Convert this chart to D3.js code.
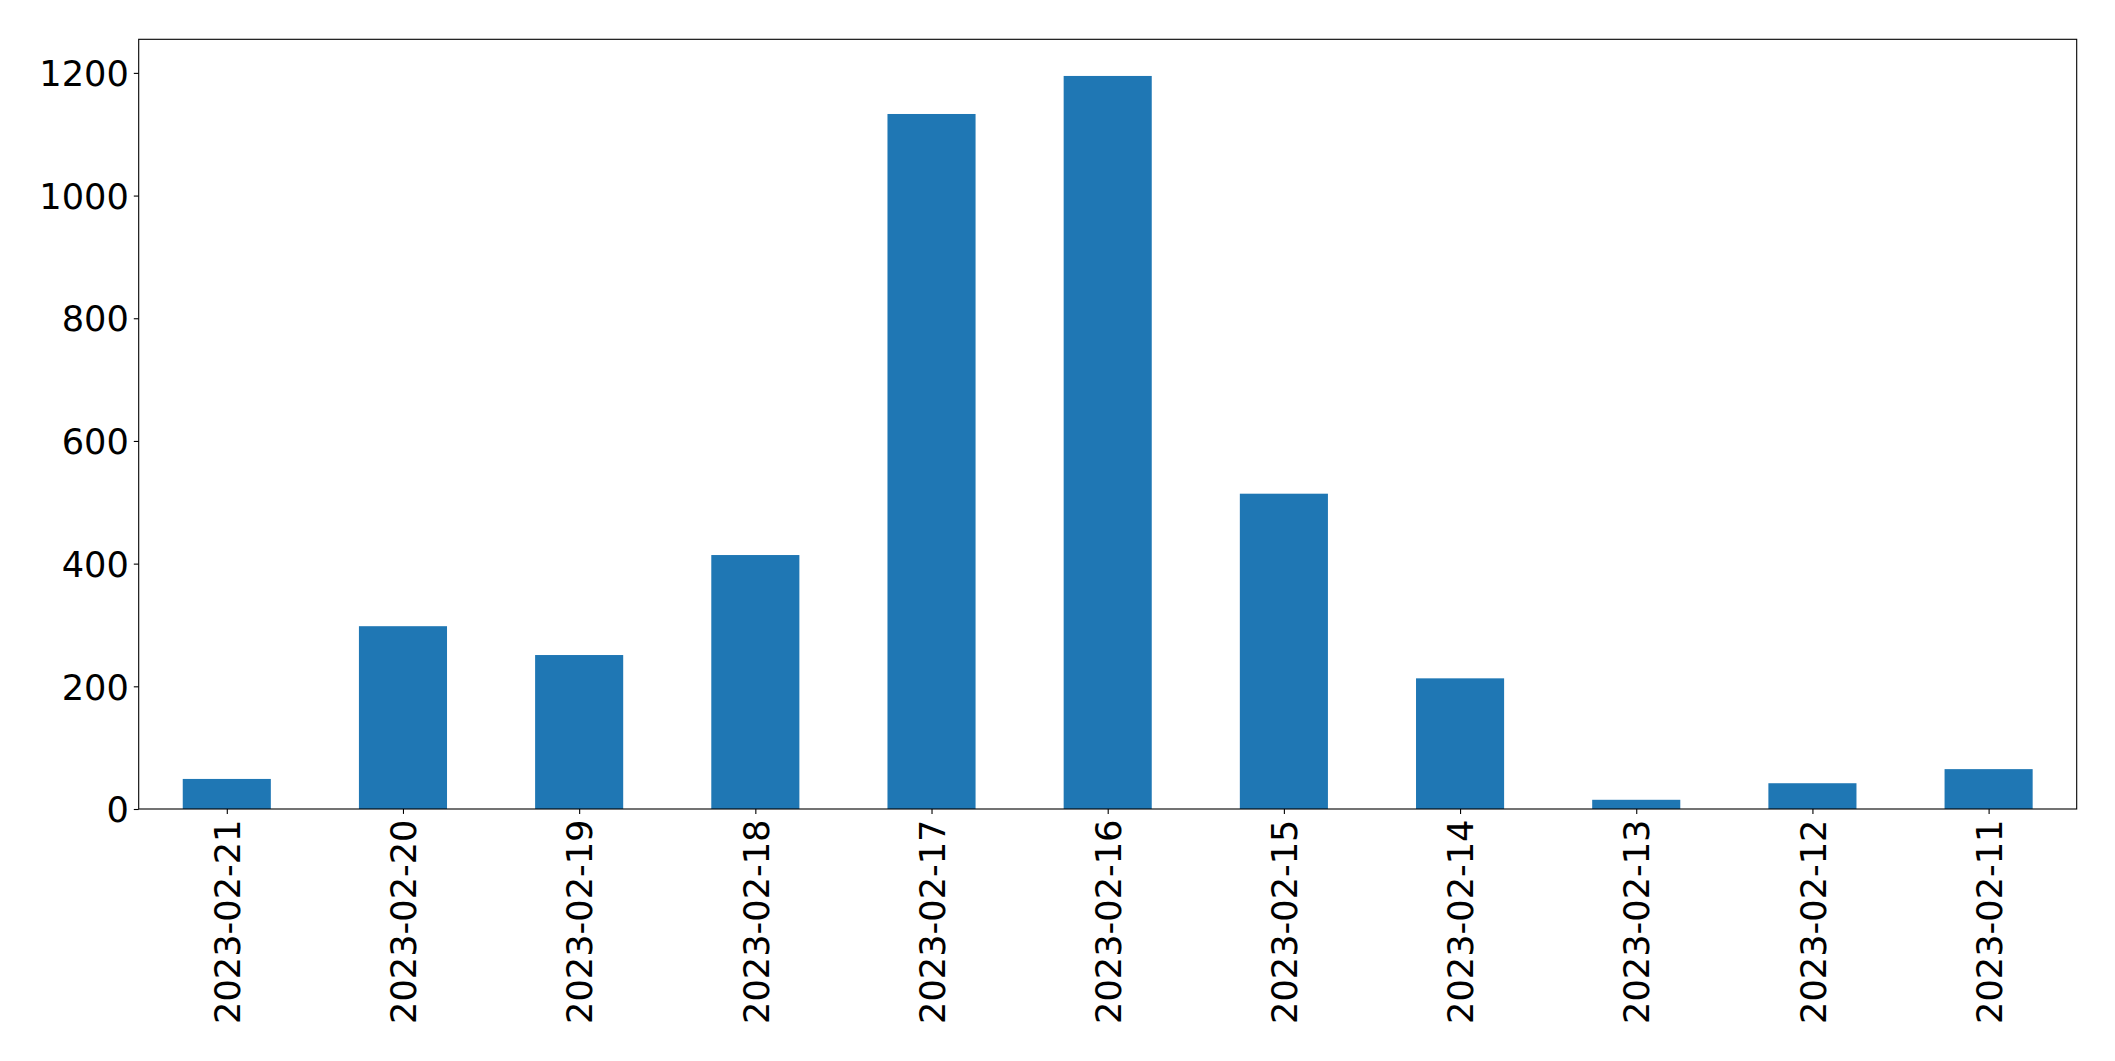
<!DOCTYPE html>
<html>
<head>
<meta charset="utf-8">
<script src="https://cdn.jsdelivr.net/npm/d3@7"></script>
<style>
  html, body { margin: 0; padding: 0; background: #fff; }
  svg { display: block; }
  text { font-family: "DejaVu Sans", sans-serif; }
</style>
</head>
<body>
<script>
const categories = ["2023-02-21","2023-02-20","2023-02-19","2023-02-18","2023-02-17","2023-02-16","2023-02-15","2023-02-14","2023-02-13","2023-02-12","2023-02-11"];
const values = [49, 298, 251, 414, 1133, 1195, 514, 213, 15, 42, 65];
const yTicks = [0, 200, 400, 600, 800, 1000, 1200];

const W = 2115, H = 1061;
const mLeft = 138.7, mRight = 2076.7, mTop = 39.3, mBottom = 809;
const fontSize = 35.2;

const svg = d3.select("body").append("svg").attr("width", W).attr("height", H);

const x = d3.scaleLinear().domain([-0.5, categories.length - 0.5]).range([mLeft, mRight]);
const yMax = d3.max(values) * 1.05;
const y = d3.scaleLinear().domain([0, yMax]).range([mBottom, mTop]);

// bars
svg.append("g").selectAll("rect").data(values).join("rect")
  .attr("x", (d, i) => x(i - 0.25))
  .attr("width", (d, i) => x(i + 0.25) - x(i - 0.25))
  .attr("y", d => y(d))
  .attr("height", d => y(0) - y(d))
  .attr("fill", "#1f77b4");

// y axis
const yAxis = d3.axisLeft(y).tickValues(yTicks).tickSize(4.9).tickPadding(4.9).tickFormat(d3.format("d"));
const gy = svg.append("g").attr("transform", `translate(${mLeft},0)`).call(yAxis);
gy.select(".domain").remove();
gy.selectAll(".tick line").attr("stroke", "#000").attr("stroke-width", 1.1);
gy.selectAll(".tick text").attr("font-size", fontSize).attr("fill", "#000")
  .attr("font-family", "DejaVu Sans").attr("dy", "0.36em");

// x axis
const xAxis = d3.axisBottom(x).tickValues(d3.range(categories.length)).tickSize(4.9).tickFormat(i => categories[i]);
const gx = svg.append("g").attr("transform", `translate(0,${mBottom})`).call(xAxis);
gx.select(".domain").remove();
gx.selectAll(".tick line").attr("stroke", "#000").attr("stroke-width", 1.1);
gx.selectAll(".tick text")
  .attr("font-size", fontSize).attr("fill", "#000").attr("font-family", "DejaVu Sans")
  .attr("transform", "rotate(-90)")
  .attr("text-anchor", "end")
  .attr("x", -10.5).attr("y", 0).attr("dy", "0.36em");

// frame
svg.append("rect").attr("x", mLeft).attr("y", mTop)
  .attr("width", mRight - mLeft).attr("height", mBottom - mTop)
  .attr("fill", "none").attr("stroke", "#000").attr("stroke-width", 1.1);
</script>
</body>
</html>
